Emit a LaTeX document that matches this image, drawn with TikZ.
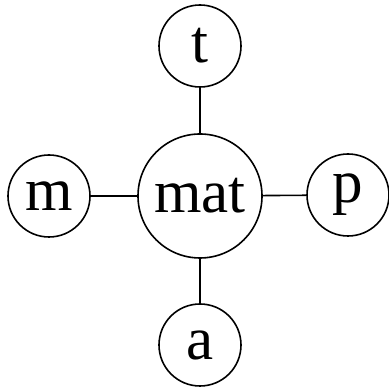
\documentclass[tikz,border=0pt]{standalone}
\usepackage{fontspec}
\setmainfont{Liberation Serif}
\begin{document}
\begin{tikzpicture}[x=1pt,y=1pt,
  leaf/.style={circle,draw,line width=1.6pt,minimum size=82pt,inner sep=0pt,font=\fontsize{61}{61}\selectfont},
  hub/.style={circle,draw,line width=1.6pt,minimum size=124pt,inner sep=0pt,font=\fontsize{61}{61}\selectfont},
  link/.style={line width=1.6pt}]
\useasboundingbox (0,0) rectangle (389,387);
\node[hub] (mat) at (200,191) {mat};
\node[leaf] (t) at (200,341) {t};
\node[leaf] (m) at (49,191) {m};
\node[leaf] (p) at (348,192) {p};
\node[leaf] (a) at (200,42) {a};
\draw[link] (mat) -- (t);
\draw[link] (mat) -- (m);
\draw[link] (mat) -- (p);
\draw[link] (mat) -- (a);
\end{tikzpicture}
\end{document}
